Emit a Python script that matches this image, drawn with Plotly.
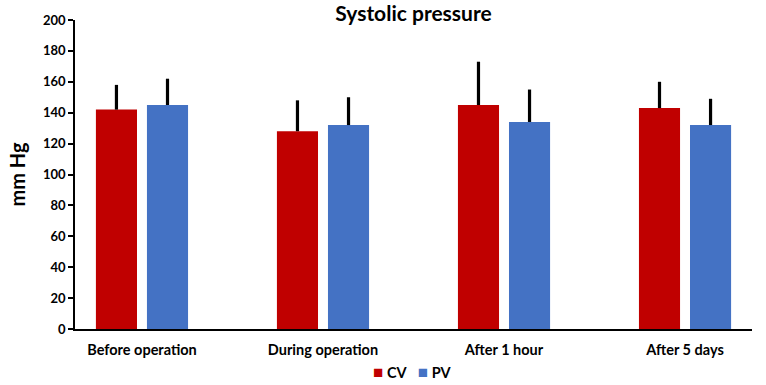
import plotly.graph_objects as go

categories = ["Before operation", "During operation", "After 1 hour", "After 5 days"]
cv_values = [142, 128, 145, 143]
pv_values = [145, 132, 134, 132]
cv_err = [16, 20, 28, 17]
pv_err = [17, 18, 21, 17]
series_names = ["CV", "PV"]
series_colors = ["#C00000", "#4472C4"]

FONT = "Lato"

fig = go.Figure()
for name, vals, errs, col in zip(series_names, [cv_values, pv_values],
                                 [cv_err, pv_err], series_colors):
    fig.add_trace(go.Bar(
        name=name, x=categories, y=vals,
        marker=dict(color=col, line=dict(width=0)),
        error_y=dict(type="data", array=errs, arrayminus=[0] * len(errs),
                     symmetric=False, color="black", thickness=3.2, width=0),
    ))

legend_text = "&nbsp;&nbsp;&nbsp;".join(
    "<span style='color:%s;font-size:17px'>■</span> <b>%s</b>" % (c, n)
    for n, c in zip(series_names, series_colors))

fig.update_layout(
    width=766, height=385,
    margin=dict(l=75, r=14, t=20, b=56, autoexpand=False),
    paper_bgcolor="white", plot_bgcolor="white",
    barmode="group", bargap=0.436, bargroupgap=0.195,
    font=dict(family=FONT, color="black"),
    title=dict(text="<b>Systolic pressure</b>", x=0.5, xref="paper", xanchor="center",
               y=0.965, yanchor="middle", font=dict(size=21, family=FONT)),
    showlegend=False,
    annotations=[dict(text=legend_text, xref="paper", yref="paper",
                      x=(412 - 75) / 677, y=-(371 - 329) / 309,
                      xanchor="center", yanchor="middle", showarrow=False,
                      font=dict(size=14.5, family=FONT, color="black"))],
    xaxis=dict(range=[-0.37, 3.37], showline=True, linecolor="black", linewidth=1.5,
               ticks="", showgrid=False, automargin=False, ticklabelstandoff=7,
               tickfont=dict(size=14.5, family=FONT),
               tickvals=categories, ticktext=["<b>%s</b>" % c for c in categories]),
    yaxis=dict(range=[0, 200], dtick=20, showline=True, linecolor="black", linewidth=1.5,
               ticks="outside", ticklen=5, tickcolor="black", tickwidth=1.5,
               showgrid=False, zeroline=False, automargin=False,
               tickfont=dict(size=13, family=FONT),
               tickvals=list(range(0, 201, 20)),
               ticktext=["<b>%d</b>" % v for v in range(0, 201, 20)],
               title=dict(text="<b>mm Hg</b>", font=dict(size=20, family=FONT), standoff=12)),
)

fig.write_html("out.html", config={"displayModeBar": False},
               post_script="document.body.style.margin='0';document.body.style.overflow='hidden';")
